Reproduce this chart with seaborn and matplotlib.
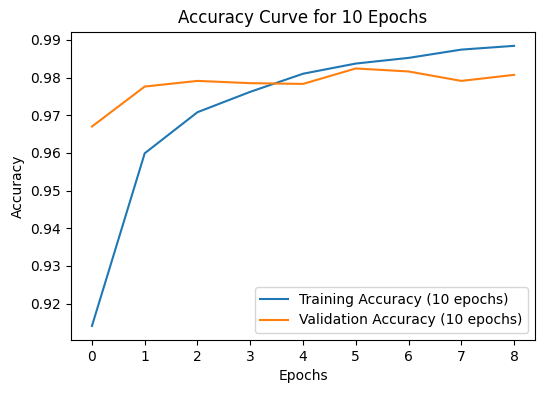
import matplotlib
matplotlib.use("Agg")
import matplotlib.pyplot as plt
import seaborn as sns
import pandas as pd

epochs = [0, 1, 2, 3, 4, 5, 6, 7, 8]
train_acc = [0.9141, 0.9599, 0.9708, 0.9762, 0.9810, 0.9837, 0.9852, 0.9874, 0.9884]
val_acc = [0.9670, 0.9776, 0.9791, 0.9785, 0.9783, 0.9824, 0.9816, 0.9791, 0.9807]
labels = ["Training Accuracy (10 epochs)", "Validation Accuracy (10 epochs)"]

df = pd.DataFrame({
    "Epochs": epochs * 2,
    "Accuracy": train_acc + val_acc,
    "Series": [labels[0]] * len(epochs) + [labels[1]] * len(epochs),
})

fig = plt.figure(figsize=(5.45, 3.93), dpi=100)
ax = fig.add_axes([0.13, 0.135, 0.852, 0.784])
sns.lineplot(data=df, x="Epochs", y="Accuracy", hue="Series",
             palette=["#1f77b4", "#ff7f0e"], ax=ax, linewidth=1.5)
ax.set_title("Accuracy Curve for 10 Epochs", fontsize=12)
ax.set_xlabel("Epochs")
ax.set_ylabel("Accuracy")
ax.set_xticks(epochs)
ax.legend(loc="lower right")
fig.savefig("out.png", dpi=100)
